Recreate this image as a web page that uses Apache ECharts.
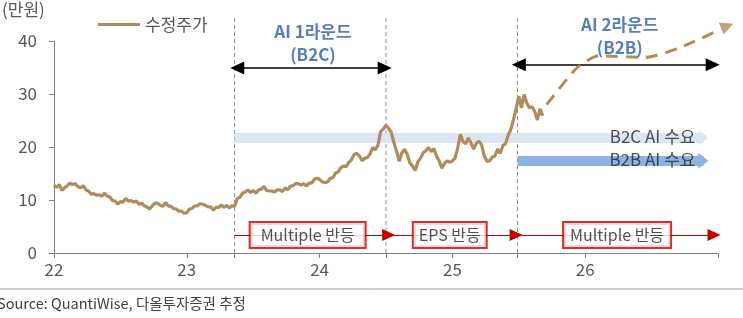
<!DOCTYPE html>
<html><head><meta charset="utf-8">
<script src="https://cdn.jsdelivr.net/npm/echarts@6/dist/echarts.min.js"></script>
<style>html,body{margin:0;padding:0;background:#fff}#c{width:743px;height:318px}</style>
</head><body><div id="c"></div>
<script>
// ---- data ----
const priceYears = [22.00,22.02,22.04,22.06,22.08,22.10,22.12,22.14,22.16,22.18,22.20,22.22,22.24,22.26,22.28,22.30,22.32,22.34,22.36,22.38,22.40,22.42,22.44,22.46,22.48,22.50,22.52,22.54,22.56,22.58,22.60,22.62,22.64,22.66,22.68,22.70,22.72,22.74,22.76,22.78,22.80,22.82,22.84,22.86,22.88,22.90,22.92,22.94,22.96,22.98,23.00,23.02,23.04,23.06,23.08,23.10,23.12,23.14,23.16,23.18,23.20,23.22,23.24,23.26,23.28,23.30,23.32,23.34,23.36,23.38,23.40,23.42,23.44,23.46,23.48,23.50,23.52,23.54,23.56,23.58,23.60,23.62,23.64,23.66,23.68,23.70,23.72,23.74,23.76,23.78,23.80,23.82,23.84,23.86,23.88,23.90,23.92,23.94,23.96,23.98,24.00,24.02,24.04,24.06,24.08,24.10,24.12,24.14,24.16,24.18,24.20,24.22,24.24,24.26,24.28,24.30,24.32,24.34,24.36,24.38,24.40,24.42,24.44,24.46,24.48,24.50,24.52,24.54,24.56,24.58,24.60,24.62,24.64,24.66,24.68,24.70,24.72,24.74,24.76,24.78,24.80,24.82,24.84,24.86,24.88,24.90,24.92,24.94,24.96,24.98,25.00,25.02,25.04,25.06,25.08,25.10,25.12,25.14,25.16,25.18,25.20,25.22,25.24,25.26,25.28,25.30,25.32,25.34,25.36,25.38,25.40,25.42,25.44,25.46,25.48,25.50,25.52,25.54,25.56,25.58,25.60,25.62,25.64,25.66,25.68];
const priceValues = [
  12.8,12.4,12.9,11.8,12.3,12.7,13.2,12.9,13.1,12.5,12.3,12.7,11.9,11.7,11.1,11.2,10.9,11.0,10.7,11.3,10.7,10.6,9.9,9.8,9.2,9.7,9.6,10.3,9.8,9.9,9.6,9.8,9.2,9.4,8.9,8.7,8.3,8.9,9.4,9.4,9.0,8.8,9.5,8.9,8.8,8.4,8.3,7.9,7.9,7.5,
  7.6,8.3,8.4,8.9,8.9,9.3,9.2,9.0,8.7,8.7,8.1,8.6,8.6,9.1,8.6,9.0,8.5,8.9,
  8.8,10.3,10.5,11.3,11.5,11.9,11.4,11.8,11.3,11.9,12.0,12.6,11.8,11.7,11.7,11.5,11.9,11.9,11.6,12.3,11.9,12.6,12.7,13.1,13.1,12.8,13.1,12.6,13.2,13.2,13.9,14.1,
  13.9,13.4,13.3,13.4,14.1,14.2,15.1,15.3,16.1,16.4,16.3,17.1,17.6,18.6,18.8,18.3,17.4,17.9,18.0,18.7,19.9,19.5,20.4,22.9,23.4,24.1,23.5,22.7,20.8,19.2,17.3,18.9,19.6,18.6,17.0,16.4,15.6,17.2,17.9,18.9,19.3,19.9,19.1,19.7,18.3,17.4,16.0,16.9,17.4,17.1,
  17.4,17.9,19.8,22.4,21.0,20.6,21.7,20.8,19.6,20.7,21.1,20.4,18.3,17.3,17.4,18.1,18.3,19.6,18.8,20.3,20.6,22.2,23.3,25.2,27.3,29.6,27.4,29.9,28.3,27.4,27.6,26.7,25.1,27.2,25.9];
const projYears = [25.71,25.94,26.10,26.45,26.70,27.07];
const projValues = [28.0,35.0,37.2,36.9,38.6,42.8];
const xLabelValues = [22,23,24,25,26];
const phaseYears = [23.36,24.50,25.49];          // dashed dividers
const roundNames = ['AI 1라운드\n(B2C)','AI 2라운드\n(B2B)'];
const roundLabelPos = [[23.95,39.6],[26.26,41.0]];
const roundArrows = [[23.38,24.49,34.9],[25.50,26.96,35.5]];
const demandNames = ['B2C AI 수요','B2B AI 수요'];
const demandBands = [[23.36,26.89,21.8],[25.49,26.89,17.4]];
const reboundNames = ['Multiple 반등','EPS 반등','Multiple 반등'];
const reboundLines = [[23.36,24.52,3.4],[24.53,25.48,3.4],[25.51,26.97,3.4]];
const reboundLabelX = [23.91,24.98,26.24];

// ---- chart ----
const chart = echarts.init(document.getElementById('c'), null, {renderer:'canvas'});
const FONT = '"Noto Sans CJK KR", "Noto Sans", sans-serif';
const GRAY = '#595959';
const BROWN = '#B08B5C';
const boxPads = [[3,10,2,10],[3,5,2,5],[3,6,2,6]];

const series = [];
phaseYears.forEach(x => series.push({
  type:'line', clip:false, silent:true, symbol:'none', z:1,
  data:[[x,0],[x,44.3]],
  lineStyle:{color:'#8c8c8c', width:1, type:[4,3]}
}));
series.push({
  type:'line', data:[], silent:true, z:2,
  markLine:{
    silent:true, animation:false,
    symbol:['none','triangle'], symbolSize:[16,10],
    label:{show:false},
    data: demandBands.map((b,i)=>[
      {coord:[b[0],b[2]], lineStyle:{color:i===0?'#DCE6F3':'#8DB3E2', width:10, type:'solid'}, itemStyle:{color:i===0?'#DCE6F3':'#8DB3E2'}},
      {coord:[b[1],b[2]]}
    ])
  }
});
series.push({
  type:'line', data:[], silent:true, z:3,
  markLine:{
    silent:true, animation:false,
    symbol:['triangle','triangle'], symbolSize:[13,14],
    label:{show:false},
    lineStyle:{color:'#000', width:1.5, type:'solid'},
    itemStyle:{color:'#000'},
    data: roundArrows.map(a=>[{coord:[a[0],a[2]]},{coord:[a[1],a[2]]}])
  }
});
series.push({
  type:'line', data:[], silent:true, z:3,
  markLine:{
    silent:true, animation:false,
    symbol:['none','triangle'], symbolSize:[12,13],
    label:{show:false},
    lineStyle:{color:'#C00000', width:1, type:'solid'},
    itemStyle:{color:'#C00000'},
    data: reboundLines.map(a=>[{coord:[a[0],a[2]]},{coord:[a[1],a[2]]}])
  }
});
series.push({
  name:'수정주가', type:'line', symbol:'none', z:5,
  data: priceYears.map((x,i)=>[x,priceValues[i]]),
  lineStyle:{color:BROWN, width:3.2}, itemStyle:{color:BROWN}
});
series.push({
  name:'전망', type:'line', symbol:'none', z:5, clip:false, smooth:0.2,
  data: projYears.map((x,i)=>[x,projValues[i]]),
  lineStyle:{color:BROWN, width:3, type:[12,8]}
});
series.push({
  type:'scatter', clip:false, z:6, silent:true,
  data:[[projYears[projYears.length-1], projValues[projValues.length-1]]],
  symbol:'triangle', symbolSize:[13,13], symbolRotate:-69,
  itemStyle:{color:BROWN}
});
series.push({
  type:'scatter', clip:false, z:7, silent:true, symbolSize:0,
  data: roundLabelPos.map((p,i)=>({value:p, label:{formatter:roundNames[i]}})),
  label:{show:true, position:'inside', color:'#2E5DA7', fontWeight:'bold', fontSize:17, lineHeight:23, fontFamily:FONT}
});
series.push({
  type:'scatter', clip:false, z:7, silent:true, symbolSize:0,
  data: demandBands.map((b,i)=>({value:[26.83,b[2]+0.2], label:{formatter:demandNames[i]}})),
  label:{show:true, position:'left', distance:0, color:'#262626', fontSize:17, fontFamily:FONT}
});
series.push({
  type:'scatter', clip:false, z:8, silent:true, symbolSize:0,
  data: reboundLabelX.map((x,i)=>({value:[x,reboundLines[i][2]], label:{formatter:reboundNames[i], padding:boxPads[i]}})),
  label:{show:true, position:'inside', color:'#262626', fontSize:16, fontFamily:FONT,
    backgroundColor:'#fff', borderColor:'#C00000', borderWidth:2, lineHeight:19}
});

chart.setOption({
  animation:false,
  textStyle:{fontFamily:FONT},
  grid:{left:54, right:25, top:41, bottom:65, containLabel:false},
  legend:{left:93, top:11, data:['수정주가'], icon:'rect', itemWidth:42, itemHeight:3, itemGap:10,
    textStyle:{color:GRAY, fontSize:17, fontFamily:FONT}},
  xAxis:{type:'value', min:22, max:27, interval:1,
    axisLine:{show:true, lineStyle:{color:'#7f7f7f', width:1}},
    axisTick:{show:true, length:5, lineStyle:{color:'#7f7f7f'}, customValues:[22,23,23.36,24,24.5,25,25.49,26,27]},
    axisLabel:{color:GRAY, fontSize:17, margin:8, customValues:xLabelValues, formatter:v=>String(Math.round(v))},
    splitLine:{show:false}},
  yAxis:{type:'value', min:0, max:40, interval:10,
    axisLine:{show:true, lineStyle:{color:'#7f7f7f', width:1}},
    axisTick:{show:true, length:5, lineStyle:{color:'#7f7f7f'}},
    axisLabel:{color:GRAY, fontSize:17, margin:17},
    splitLine:{show:false}},
  graphic:[
    {type:'text', left:2, top:1, style:{text:'(만원)', fill:GRAY, fontSize:17, fontFamily:FONT}},
    {type:'line', shape:{x1:0,y1:289,x2:743,y2:289}, style:{stroke:'#9a9a9a', lineWidth:1}},
    {type:'text', left:-3, top:296, style:{text:'Source: QuantiWise, 다올투자증권 추정', fill:'#404040', fontSize:14.5, fontFamily:FONT}}
  ],
  series
});
</script></body></html>
